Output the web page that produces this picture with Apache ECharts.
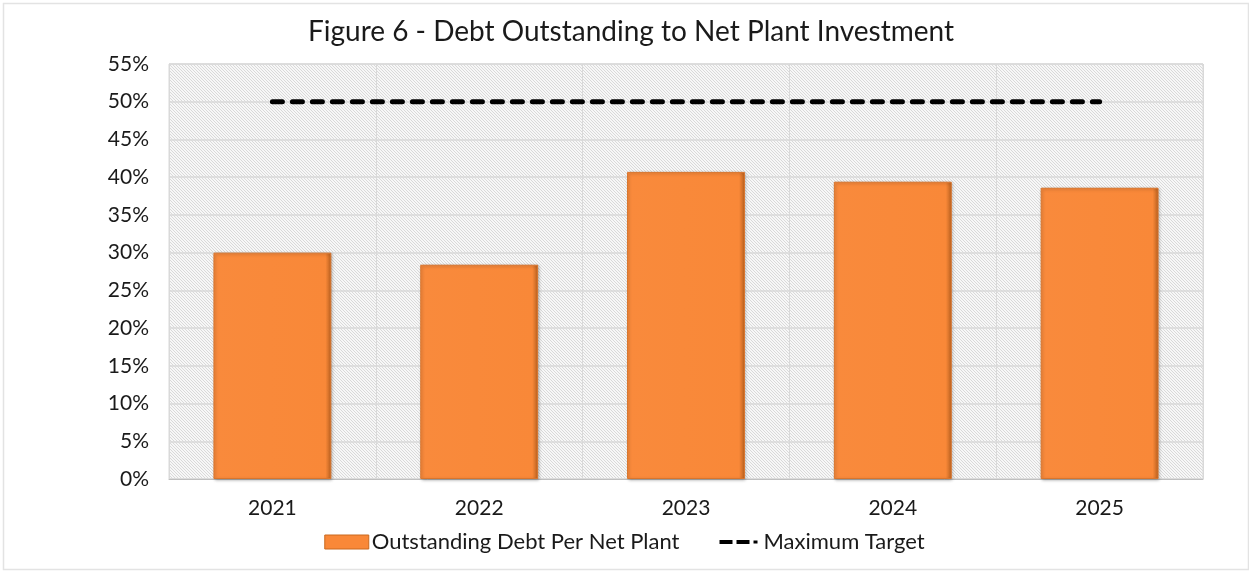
<!DOCTYPE html>
<html><head><meta charset="utf-8">
<script src="https://cdn.jsdelivr.net/npm/echarts@6/dist/echarts.min.js"></script>
<style>html,body{margin:0;padding:0;background:#fff}#c{width:1249px;height:571px}</style>
</head><body><div id="c"></div>
<script>
const categories = ['2021', '2022', '2023', '2024', '2025'];
const debtPerNetPlant = [30.0, 28.4, 40.7, 39.4, 38.6];
const maximumTarget = [50, 50, 50, 50, 50];
const yTicks = [0, 5, 10, 15, 20, 25, 30, 35, 40, 45, 50, 55];

// hatch pattern
const pc = document.createElement('canvas');
pc.width = 6; pc.height = 6;
const g = pc.getContext('2d');
g.fillStyle = '#f7f7f7'; g.fillRect(0, 0, 6, 6);
g.strokeStyle = '#d9d9d9'; g.lineWidth = 1;
g.beginPath();
for (let k = -6; k <= 12; k += 3) { g.moveTo(k, 0); g.lineTo(k + 6, 6); }
g.stroke();

const chart = echarts.init(document.getElementById('c'));
chart.setOption({
  animation: false,
  backgroundColor: '#fff',
  graphic: [{
    type: 'rect', left: 1, top: 1, z: -1,
    shape: { width: 1245, height: 566 },
    style: { fill: 'none', stroke: '#e3e3e3', lineWidth: 1.5 }
  }],
  title: {
    text: 'Figure 6 - Debt Outstanding to Net Plant Investment',
    left: 626, top: 13, textAlign: 'center',
    textStyle: { fontFamily: 'Lato', fontWeight: 'normal', fontSize: 28, color: '#1a1a1a' }
  },
  grid: {
    left: 169, right: 46, top: 64, bottom: 92,
    show: true, backgroundColor: { image: pc, repeat: 'repeat' },
    borderColor: '#d9d9d9', borderWidth: 1
  },
  legend: {
    bottom: 13, left: 'center', itemGap: 40,
    textStyle: { fontFamily: 'Lato', fontSize: 22, color: '#1a1a1a', padding: [0, 0, 0, -2] },
    data: [
      { name: 'Outstanding Debt Per Net Plant', icon: 'rect', itemStyle: { color: '#F98838', borderColor: '#C9691F', borderWidth: 1 } },
      { name: 'Maximum Target', icon: 'path://M0,0L0.01,0Z M0,5h13v4h-13z M17,5h13v4h-13z M34,5.5h4v3h-4z M38,14L38.01,14Z', itemStyle: { color: '#000' } }
    ],
    itemWidth: 44, itemHeight: 14
  },
  xAxis: {
    type: 'category', data: categories,
    axisLine: { lineStyle: { color: '#bfbfbf' } },
    axisTick: { show: false },
    splitLine: { show: true, lineStyle: { color: '#d9d9d9', width: 1 } },
    axisLabel: { fontFamily: 'Lato', fontSize: 21, color: '#1a1a1a', margin: 19 }
  },
  yAxis: {
    type: 'value', min: 0, max: 55, interval: 5,
    axisLine: { show: false }, axisTick: { show: false },
    splitLine: { lineStyle: { color: '#d9d9d9', width: 1.5 } },
    axisLabel: { fontFamily: 'Lato', fontSize: 21, color: '#1a1a1a', margin: 20,
      formatter: v => yTicks.includes(v) ? v + '%' : '' }
  },
  series: [
    {
      name: 'Outstanding Debt Per Net Plant', type: 'bar', data: debtPerNetPlant,
      barWidth: '57%',
      itemStyle: {
        color: new echarts.graphic.LinearGradient(0, 0, 1, 0, [
          { offset: 0, color: '#F98A3C' }, { offset: 0.95, color: '#F98838' }, { offset: 1, color: '#B8601F' }
        ]),
        borderColor: '#D9752C', borderWidth: 1,
        shadowColor: 'rgba(0,0,0,0.25)', shadowBlur: 3, shadowOffsetX: 1, shadowOffsetY: 1
      }
    },
    {
      name: 'Maximum Target', type: 'line', data: maximumTarget,
      symbol: 'none', z: 5,
      lineStyle: { color: '#000', width: 5, type: [10, 10], cap: 'round' },
      itemStyle: { color: '#000' }
    }
  ]
});
</script></body></html>
